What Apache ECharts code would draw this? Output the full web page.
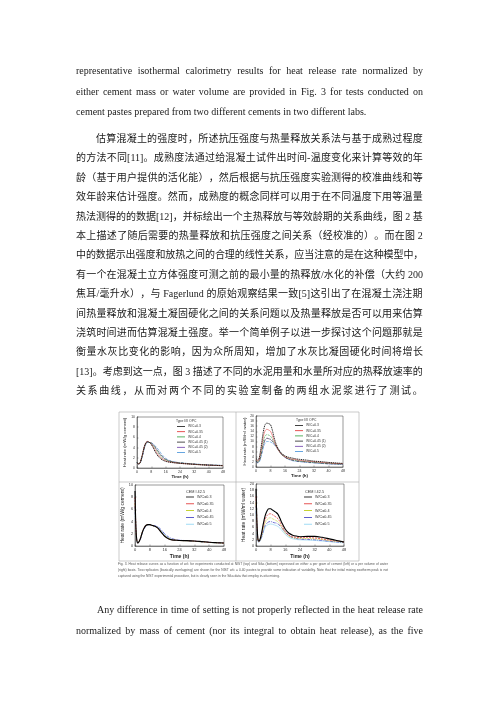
<!DOCTYPE html>
<html><head><meta charset="utf-8">
<script src="https://cdn.jsdelivr.net/npm/echarts@6/dist/echarts.min.js"></script>
<style>
html,body{margin:0;padding:0;background:#fff;}
#page{position:relative;width:500px;height:707px;overflow:hidden;background:#fff;}
#chart{position:absolute;left:0;top:0;width:500px;height:707px;}
.ln{position:absolute;left:76px;white-space:nowrap;color:#1a1a1a;}
.en{font-family:"Liberation Serif","DejaVu Serif",serif;font-size:10px;line-height:12px;}
.zh{font-family:"Liberation Serif","Noto Sans CJK SC",sans-serif;font-size:10px;line-height:12px;}
.cap{position:absolute;left:118px;white-space:nowrap;font-family:"Liberation Sans",sans-serif;font-size:3.3px;line-height:4px;color:#555;}
</style></head>
<body><div id="page"><div id="chart"></div></div>
<script>
// ---- data ----
const T = [0,0.5,1,1.5,2,3,4,5,6,7,8,9,10,11,12,13,14,16,18,20,22,24,28,32,36,40,44,48];
const wcTop = ['W/C=0.3','W/C=0.35','W/C=0.4','W/C=0.45 (1)','W/C=0.45 (2)','W/C=0.5'];
const wcBottom = ['W/C=0.3','W/C=0.35','W/C=0.4','W/C=0.45','W/C=0.5'];

// NIST, per gram cement (mW/g cement)
const nistCement = [
 [1.0,0.9,0.8,0.9,1.3,2.6,4.1,5.0,5.2,5.0,4.6,4.0,3.3,2.7,2.2,1.9,1.6,1.3,1.15,1.05,0.95,0.9,0.8,0.7,0.62,0.55,0.5,0.45],
 [1.0,0.9,0.8,0.9,1.3,2.6,4.1,5.0,5.2,5.0,4.7,4.2,3.6,3.0,2.5,2.1,1.8,1.4,1.2,1.1,1.0,0.92,0.82,0.72,0.63,0.56,0.5,0.45],
 [1.1,0.9,0.8,0.9,1.2,2.5,4.0,4.9,5.1,5.0,4.8,4.4,3.9,3.4,2.9,2.4,2.0,1.6,1.3,1.15,1.05,0.98,0.85,0.75,0.65,0.58,0.52,0.47],
 [1.1,0.9,0.8,0.9,1.2,2.4,3.9,4.8,5.1,5.0,4.9,4.6,4.2,3.7,3.2,2.7,2.3,1.7,1.4,1.2,1.1,1.0,0.88,0.77,0.67,0.6,0.54,0.49],
 [1.1,0.9,0.8,0.9,1.2,2.4,3.8,4.8,5.1,5.0,4.9,4.6,4.1,3.6,3.1,2.6,2.2,1.7,1.4,1.2,1.1,1.0,0.87,0.76,0.66,0.59,0.53,0.48],
 [1.1,0.9,0.8,0.9,1.1,2.3,3.7,4.7,5.0,5.0,4.9,4.7,4.4,4.0,3.6,3.1,2.6,1.9,1.5,1.25,1.12,1.03,0.9,0.8,0.7,0.62,0.56,0.5]
];
// NIST, per ml water (mW/ml water)
const nistWater = [
 [3.3,3.0,2.7,3.0,4.3,8.7,13.7,16.6,17.2,17.0,16.6,14.5,11.5,9.2,7.5,6.4,5.4,4.4,3.8,3.5,3.2,3.0,2.7,2.3,2.1,1.8,1.6,1.4],
 [2.9,2.6,2.3,2.6,3.7,7.4,11.8,14.2,14.8,14.5,14.0,12.4,10.3,8.6,7.1,6.0,5.1,4.0,3.4,3.1,2.9,2.6,2.3,2.1,1.8,1.6,1.4,1.3],
 [2.7,2.3,2.0,2.3,3.0,6.2,10.0,12.2,12.7,12.5,12.1,11.0,9.7,8.5,7.2,6.0,5.0,4.0,3.3,2.9,2.6,2.4,2.1,1.9,1.6,1.5,1.3,1.2],
 [2.4,2.0,1.8,2.0,2.7,5.3,8.7,10.7,11.3,11.1,10.9,10.2,9.3,8.2,7.1,6.0,5.1,3.8,3.1,2.7,2.4,2.2,2.0,1.7,1.5,1.3,1.2,1.1],
 [2.4,2.0,1.8,2.0,2.7,5.3,8.4,10.6,11.2,11.1,10.8,10.1,9.1,8.0,6.9,5.8,4.9,3.8,3.1,2.7,2.4,2.2,1.9,1.7,1.5,1.3,1.2,1.1],
 [2.2,1.8,1.6,1.8,2.2,4.6,7.4,9.4,10.0,10.0,9.8,9.4,8.8,8.0,7.2,6.2,5.2,3.8,3.0,2.5,2.2,2.1,1.8,1.6,1.4,1.2,1.1,1.0]
];
// Sika, per gram cement
const sikaCement = [
 [9.0,3.0,0.9,0.5,0.6,1.3,2.3,3.0,3.4,3.5,3.5,3.4,3.3,3.2,3.0,2.7,2.3,1.6,1.2,1.0,0.95,0.9,0.88,0.82,0.72,0.62,0.55,0.5],
 [8.0,2.8,0.9,0.5,0.6,1.3,2.3,3.0,3.4,3.5,3.5,3.4,3.3,3.2,3.0,2.7,2.3,1.6,1.2,1.0,0.95,0.9,0.87,0.8,0.7,0.6,0.53,0.48],
 [7.0,2.6,0.9,0.5,0.6,1.3,2.3,3.0,3.4,3.5,3.5,3.4,3.3,3.2,3.0,2.8,2.4,1.7,1.3,1.05,0.95,0.9,0.85,0.78,0.68,0.58,0.5,0.45],
 [6.5,2.5,0.9,0.5,0.6,1.2,2.2,2.9,3.3,3.5,3.5,3.4,3.35,3.3,3.2,3.0,2.7,2.0,1.5,1.2,1.05,0.95,0.88,0.8,0.7,0.6,0.52,0.46],
 [6.0,2.4,0.9,0.5,0.6,1.2,2.2,2.9,3.3,3.4,3.5,3.4,3.3,3.2,3.1,2.9,2.5,1.8,1.35,1.1,0.98,0.92,0.86,0.78,0.68,0.58,0.5,0.45]
];
// Sika, per ml water
const sikaWater = [
 [18.5,8.0,2.5,1.6,1.8,4.0,7.2,9.8,11.3,12.0,12.0,11.6,11.2,10.8,10.2,9.0,7.6,5.4,4.1,3.5,3.2,3.0,3.1,3.1,2.8,2.3,1.8,1.3],
 [16.0,7.0,2.3,1.5,1.7,3.6,6.4,8.6,9.8,10.3,10.4,10.1,9.7,9.3,8.8,7.9,6.7,4.7,3.5,3.0,2.8,2.7,2.7,2.6,2.3,1.9,1.6,1.3],
 [14.0,6.0,2.2,1.4,1.6,3.2,5.6,7.5,8.5,9.0,9.1,8.8,8.5,8.2,7.8,7.0,6.0,4.2,3.2,2.7,2.5,2.4,2.4,2.3,2.1,1.7,1.5,1.2],
 [13.0,5.5,2.0,1.3,1.5,2.8,4.9,6.6,7.4,7.8,7.9,7.7,7.5,7.4,7.1,6.6,5.9,4.4,3.3,2.7,2.4,2.2,2.1,2.0,1.8,1.5,1.3,1.1],
 [12.0,5.0,1.9,1.2,1.4,2.6,4.5,6.0,6.7,7.0,7.1,7.0,6.8,6.6,6.3,5.8,5.1,3.7,2.8,2.3,2.1,2.0,1.9,1.8,1.6,1.4,1.2,1.0]
];

// ---- page text ----
const enTop = [
 'representative isothermal calorimetry results for heat release rate normalized by',
 'either cement mass or water volume are provided in Fig. 3 for tests conducted on',
 'cement pastes prepared from two different cements in two different labs.'
];
const zhLines = [
 '估算混凝土的强度时，所述抗压强度与热量释放关系法与基于成熟过程度',
 '的方法不同[11]。成熟度法通过给混凝土试件出时间-温度变化来计算等效的年',
 '龄（基于用户提供的活化能），然后根据与抗压强度实验测得的校准曲线和等',
 '效年龄来估计强度。然而，成熟度的概念同样可以用于在不同温度下用等温量',
 '热法测得的的数据[12]，并标绘出一个主热释放与等效龄期的关系曲线，图 2 基',
 '本上描述了随后需要的热量释放和抗压强度之间关系（经校准的）。而在图 2',
 '中的数据示出强度和放热之间的合理的线性关系，应当注意的是在这种模型中，',
 '有一个在混凝土立方体强度可测之前的最小量的热释放/水化的补偿（大约 200',
 '焦耳/毫升水），与 Fagerlund 的原始观察结果一致[5]这引出了在混凝土浇注期',
 '间热量释放和混凝土凝固硬化之间的关系问题以及热量释放是否可以用来估算',
 '浇筑时间进而估算混凝土强度。举一个简单例子以进一步探讨这个问题那就是',
 '衡量水灰比变化的影响，因为众所周知，增加了水灰比凝固硬化时间将增长',
 '[13]。考虑到这一点，图 3 描述了不同的水泥用量和水量所对应的热释放速率的',
 '关系曲线，从而对两个不同的实验室制备的两组水泥浆进行了测试。'
];
const capLines = [
 'Fig. 3. Heat release curves as a function of w/c for experiments conducted at NIST (top) and Sika (bottom) expressed on either a per gram of cement (left) or a per volume of water',
 '(right) basis. Two replicates (basically overlapping) are shown for the NIST w/c = 0.40 pastes to provide some indication of variability. Note that the initial mixing exotherm peak is not',
 'captured using the NIST experimental procedure, but is clearly seen in the Sika data that employ in-situ mixing.'
];
const enBottom = [
 'Any difference in time of setting is not properly reflected in the heat release rate',
 'normalized by mass of cement (nor its integral to obtain heat release), as the five'
];

const page = document.getElementById('page');
const fitters = [];
function measure(el){ return el.getBoundingClientRect().width; }
// Latin text: justify by stretching word spaces
function addWordLine(txt, cls, left, top, width, justify){
  const d = document.createElement('div');
  d.className = cls; d.style.left = left+'px'; d.style.top = top+'px';
  const s = document.createElement('span'); s.textContent = txt; d.appendChild(s);
  page.appendChild(d);
  if (justify) fitters.push(()=>{
    s.style.wordSpacing = '0px';
    const w = measure(s), n = (txt.match(/ /g)||[]).length;
    if (n) s.style.wordSpacing = ((width - w)/n) + 'px';
  });
}
// CJK text: justify by spacing every character unit (Latin runs kept together)
function addCjkLine(txt, left, top, width){
  const d = document.createElement('div');
  d.className = 'ln zh'; d.style.left = left+'px'; d.style.top = top+'px';
  const units = txt.match(/[\x00-\x7F]+|[^\x00-\x7F]/g);
  const spans = units.map(u=>{ const s=document.createElement('span'); s.textContent=u; s.style.display='inline-block'; s.style.whiteSpace='pre'; d.appendChild(s); return s; });
  page.appendChild(d);
  fitters.push(()=>{
    spans.forEach(s=>s.style.marginRight='0px');
    const w = measure(d.firstChild.parentNode.lastChild.getBoundingClientRect ? d : d);
    let tot = 0; spans.forEach(s=>tot+=measure(s));
    const gap = (width - tot)/(spans.length-1);
    spans.forEach((s,i)=>{ if(i<spans.length-1) s.style.marginRight = gap+'px'; });
  });
}
enTop.forEach((t,i)=>addWordLine(t,'ln en',76,65+20.5*i,347,i<2));
zhLines.forEach((t,i)=>addCjkLine(t, i===0?96:76, 133+19.4*i, i===0?327:347));
capLines.forEach((t,i)=>addWordLine(t,'cap',118,562+5.8*i,270,i<2));
addWordLine(enBottom[0],'ln en',97,604,326,true);
addWordLine(enBottom[1],'ln en',76,625,347,true);
function fitAll(){ fitters.forEach(f=>f()); }
fitAll();
if (document.fonts && document.fonts.ready) document.fonts.ready.then(fitAll);

// ---- chart ----
const chart = echarts.init(document.getElementById('chart'), null, {renderer:'canvas'});
const topStyles = [
 {color:'#111', type:[1.2,0.7], width:0.9},
 {color:'#e02828', type:'solid', width:0.5},
 {color:'#2f9e3a', type:[2,1], width:0.6},
 {color:'#222', type:[3,1,0.7,1], width:0.6},
 {color:'#6a3aa8', type:[2,1,0.6,1,0.6,1], width:0.6},
 {color:'#3f8fd8', type:[3,1.2], width:0.6}
];
const botStyles = [
 {color:'#000', type:'solid', width:1.1},
 {color:'#e02828', type:[2,1], width:0.7},
 {color:'#b8c800', type:[0.8,0.8], width:0.7},
 {color:'#3535c0', type:[3,1,0.8,1], width:0.7},
 {color:'#86d2f2', type:'solid', width:0.6}
];
const panels = [
 {grid:{left:137,top:417,width:86,height:51}, ymax:10, yname:'Heat rate (mW/g cement)', ygap:10, xgap:7, data:nistCement, names:wcTop, styles:topStyles, title:'Type I/II OPC', tpos:[176,420], lpos:[177,425], igap:2.2, fs:3.6, nfs:4.4},
 {grid:{left:256,top:416,width:87,height:51}, ymax:20, yname:'Heat rate (mW/ml water)', ygap:8, xgap:7, data:nistWater, names:wcTop, styles:topStyles, title:'Type I/II OPC', tpos:[296,419], lpos:[295,424], igap:2.2, fs:3.6, nfs:4.4},
 {grid:{left:135,top:485,width:89,height:61}, ymax:10, yname:'Heat rate (mW/g cement)', ygap:8, xgap:8, data:sikaCement, names:wcBottom, styles:botStyles, title:'CEM I 42.5', tpos:[186,490], lpos:[186,495], igap:2.8, fs:4, nfs:5},
 {grid:{left:256,top:484,width:88,height:62}, ymax:20, yname:'Heat rate (mW/ml water)', ygap:8, xgap:8, data:sikaWater, names:wcBottom, styles:botStyles, title:'CEM I 42.5', tpos:[305,490], lpos:[304,495], igap:2.8, fs:4, nfs:5}
];
const option = {animation:false, backgroundColor:'transparent', grid:[], xAxis:[], yAxis:[], series:[], legend:[], graphic:[]};
panels.forEach((p,pi)=>{
  option.grid.push(Object.assign({show:true, borderColor:'#333', borderWidth:0.5, backgroundColor:'#fff'}, p.grid));
  option.xAxis.push({gridIndex:pi, type:'value', min:0, max:48, interval:8,
    name:'Time (h)', nameLocation:'middle', nameGap:p.xgap, nameTextStyle:{fontSize:p.nfs, fontWeight:'bold', color:'#222', fontFamily:'Liberation Sans'},
    axisLine:{lineStyle:{color:'#333', width:0.5}}, axisTick:{inside:true, length:1.5, lineStyle:{width:0.4}},
    axisLabel:{fontSize:p.fs, margin:2, color:'#333', fontFamily:'Liberation Sans'}, splitLine:{show:false}});
  option.yAxis.push({gridIndex:pi, type:'value', min:0, max:p.ymax, interval:2,
    name:p.yname, nameLocation:'middle', nameRotate:90, nameGap:p.ygap, nameTextStyle:{fontSize:p.nfs, color:'#222', fontFamily:'Liberation Sans'},
    axisLine:{show:true, lineStyle:{color:'#333', width:0.5}}, axisTick:{show:true, inside:true, length:1.5, lineStyle:{width:0.4}},
    axisLabel:{fontSize:p.fs-0.2, margin:2, color:'#333', fontFamily:'Liberation Sans'}, splitLine:{show:false}});
  const lnames = [];
  p.names.forEach((nm,si)=>{
    const id = 'P'+pi+'|'+nm;
    lnames.push(id);
    option.series.push({type:'line', name:id, xAxisIndex:pi, yAxisIndex:pi, smooth:0.3, symbol:'none',
      lineStyle:p.styles[si], itemStyle:{color:p.styles[si].color},
      data:T.map((t,k)=>[t, p.data[si][k]]), z:10-si});
  });
  option.legend.push({data:lnames, orient:'vertical', left:p.lpos[0], top:p.lpos[1], padding:0,
    icon:'rect', itemWidth:8, itemHeight:0.8, itemGap:p.igap, selectedMode:false,
    formatter:n=>n.split('|')[1], textStyle:{fontSize:p.fs-0.3, color:'#333', fontFamily:'Liberation Sans', padding:[0,0,0,-2]}});
  option.graphic.push({type:'text', left:p.tpos[0], top:p.tpos[1], style:{text:p.title, fontSize:p.fs-0.2, fill:'#333', fontFamily:'Liberation Sans'}});
});
// figure frame
option.graphic.push({type:'rect', shape:{x:119,y:412,width:240,height:149}, style:{fill:'none', stroke:'#aaa', lineWidth:0.6}, z:-1});
option.graphic.push({type:'line', shape:{x1:236,y1:412,x2:236,y2:561}, style:{stroke:'#aaa', lineWidth:0.6}});
option.graphic.push({type:'line', shape:{x1:119,y1:482,x2:359,y2:482}, style:{stroke:'#aaa', lineWidth:0.6}});
chart.setOption(option);
</script></body></html>
